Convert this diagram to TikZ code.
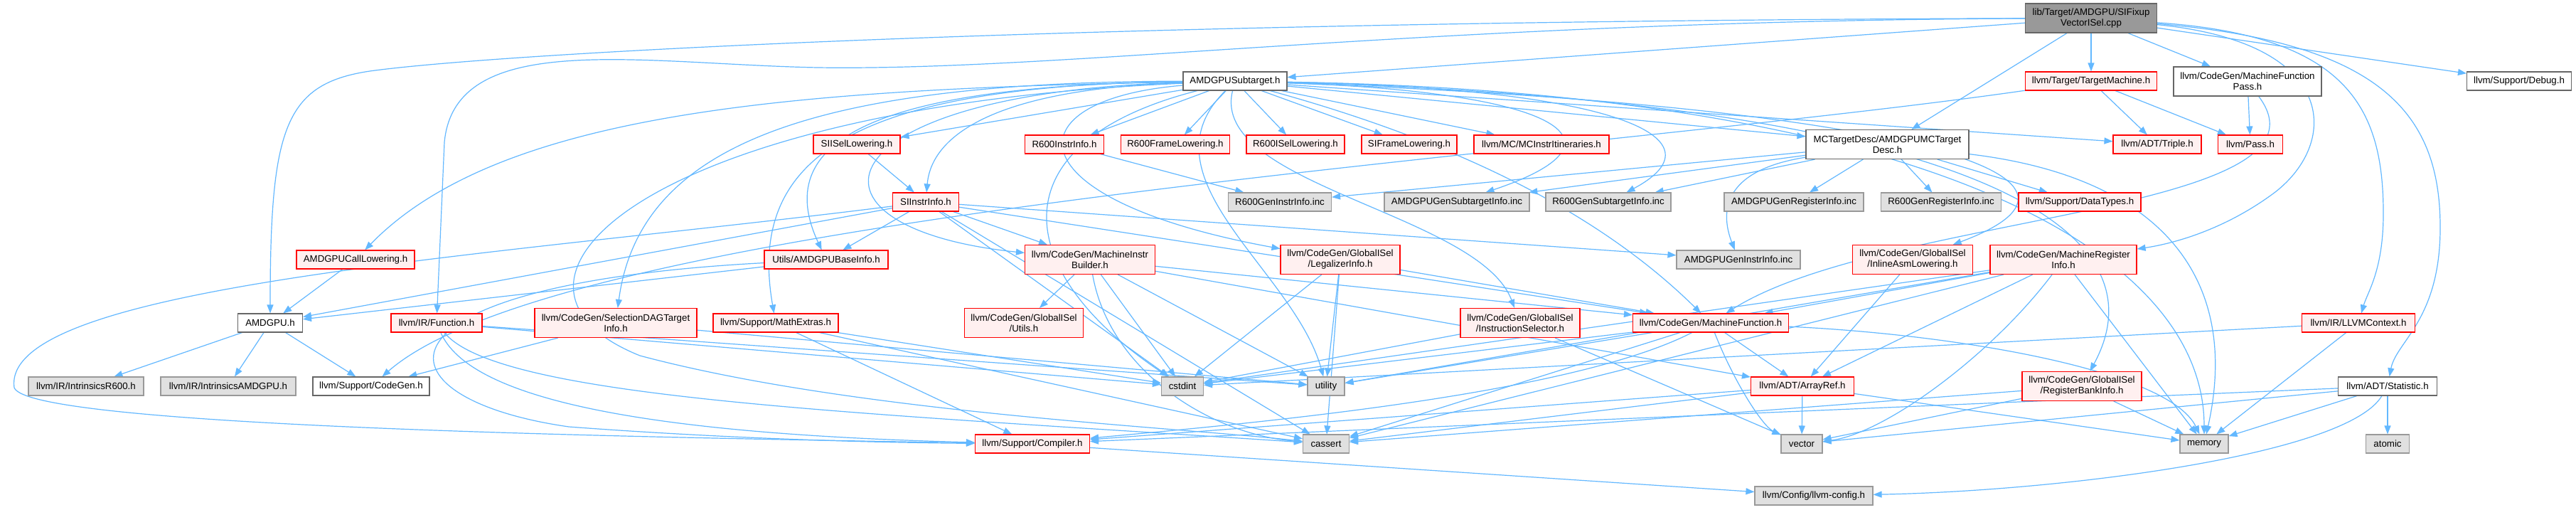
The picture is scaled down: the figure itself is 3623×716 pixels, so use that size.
\documentclass[tikz,border=0pt]{standalone}
\usepackage{fontspec}
\setmainfont{Liberation Sans}
\usetikzlibrary{arrows.meta,backgrounds}
\definecolor{edgec}{RGB}{99,184,255}
\definecolor{wborder}{RGB}{102,102,102}
\definecolor{redfill}{RGB}{255,240,240}
\definecolor{gfill}{RGB}{224,224,224}
\definecolor{gborder}{RGB}{153,153,153}
\definecolor{rootfill}{RGB}{153,153,153}
\begin{document}
\begin{tikzpicture}[x=1pt,y=-1pt,
  box/.style={line width=1.1pt, align=center, inner sep=0pt, text=black, font=\fontsize{13.3}{15}\selectfont},
  wbox/.style={box, draw=wborder, fill=white},
  rbox/.style={box, draw=red, fill=redfill},
  gbox/.style={box, draw=gborder, fill=gfill},
  rootbox/.style={box, draw=wborder, fill=rootfill},
  hone/.style={minimum height=26pt},
  htwo/.style={minimum height=41pt},
  conn/.style={draw=edgec, line width=1.2pt, -{Triangle[length=12pt,width=9pt]}}]
\useasboundingbox (0,0) rectangle (3623,716);
% row 1
\node[rootbox,htwo,minimum width=185pt] (root) at (2941,25.5) {lib/Target/AMDGPU/SIFixup\\VectorISel.cpp};
% row 2
\node[wbox,hone,minimum width=146pt] (sub) at (1737,114) {AMDGPUSubtarget.h};
\node[rbox,hone,minimum width=185pt] (tm) at (2941,114) {llvm/Target/TargetMachine.h};
\node[wbox,htwo,minimum width=208pt] (mfp) at (3161,114.5) {llvm/CodeGen/MachineFunction\\Pass.h};
\node[wbox,hone,minimum width=147pt] (dbg) at (3543,114) {llvm/Support/Debug.h};
% row 3
\node[rbox,hone,minimum width=122pt] (sisel) at (1205,203) {SIISelLowering.h};
\node[rbox,hone,minimum width=111pt] (r6ii) at (1497,203) {R600InstrInfo.h};
\node[rbox,hone,minimum width=153pt] (r6fl) at (1653,203) {R600FrameLowering.h};
\node[rbox,hone,minimum width=138pt] (r6isel) at (1822,203) {R600ISelLowering.h};
\node[rbox,hone,minimum width=134pt] (sifl) at (1982,203) {SIFrameLowering.h};
\node[rbox,hone,minimum width=190pt] (mcit) at (2168,203) {llvm/MC/MCInstrItineraries.h};
\node[wbox,htwo,minimum width=229pt] (mctd) at (2654.5,203) {MCTargetDesc/AMDGPUMCTarget\\Desc.h};
\node[rbox,hone,minimum width=124pt] (triple) at (3034,203) {llvm/ADT/Triple.h};
\node[rbox,hone,minimum width=91pt] (pass) at (3165,203) {llvm/Pass.h};
% row 4
\node[rbox,hone,minimum width=93pt] (siii) at (1302,284) {SIInstrInfo.h};
\node[gbox,hone,minimum width=145pt] (r6gii) at (1800,284) {R600GenInstrInfo.inc};
\node[gbox,hone,minimum width=204pt] (agsi) at (2049,284) {AMDGPUGenSubtargetInfo.inc};
\node[gbox,hone,minimum width=176pt] (r6gsi) at (2262,284) {R600GenSubtargetInfo.inc};
\node[gbox,hone,minimum width=196pt] (agri) at (2523,284) {AMDGPUGenRegisterInfo.inc};
\node[gbox,hone,minimum width=169pt] (r6gri) at (2730,284) {R600GenRegisterInfo.inc};
\node[rbox,hone,minimum width=172pt] (dtypes) at (2925,284) {llvm/Support/DataTypes.h};
% row 5
\node[rbox,hone,minimum width=166pt] (acl) at (500,365) {AMDGPUCallLowering.h};
\node[rbox,hone,minimum width=174pt] (ubi) at (1162,365) {Utils/AMDGPUBaseInfo.h};
\node[rbox,htwo,minimum width=183pt] (mib) at (1533,365) {llvm/CodeGen/MachineInstr\\Builder.h};
\node[rbox,htwo,minimum width=168pt] (legal) at (1885,365) {llvm/CodeGen/GlobalISel\\/LegalizerInfo.h};
\node[gbox,hone,minimum width=174pt] (agii) at (2445,365) {AMDGPUGenInstrInfo.inc};
\node[rbox,htwo,minimum width=169pt] (inline) at (2690,365) {llvm/CodeGen/GlobalISel\\/InlineAsmLowering.h};
\node[rbox,htwo,minimum width=206pt] (mri) at (2902,365) {llvm/CodeGen/MachineRegister\\Info.h};
% row 6
\node[wbox,hone,minimum width=91pt] (amdgpu) at (380,454) {AMDGPU.h};
\node[rbox,hone,minimum width=128pt] (func) at (614,454) {llvm/IR/Function.h};
\node[rbox,htwo,minimum width=228pt] (sdag) at (866,454) {llvm/CodeGen/SelectionDAGTarget\\Info.h};
\node[rbox,hone,minimum width=176pt] (mathx) at (1091,454) {llvm/Support/MathExtras.h};
\node[rbox,htwo,minimum width=167pt] (gutils) at (1440,454) {llvm/CodeGen/GlobalISel\\/Utils.h};
\node[rbox,htwo,minimum width=168pt] (isel) at (2138,454) {llvm/CodeGen/GlobalISel\\/InstructionSelector.h};
\node[rbox,hone,minimum width=219pt] (mf) at (2406,454) {llvm/CodeGen/MachineFunction.h};
\node[rbox,hone,minimum width=159pt] (ctx) at (3317,454) {llvm/IR/LLVMContext.h};
% row 7
\node[gbox,hone,minimum width=162pt] (ir600) at (121,543) {llvm/IR/IntrinsicsR600.h};
\node[gbox,hone,minimum width=190pt] (iamd) at (321,543) {llvm/IR/IntrinsicsAMDGPU.h};
\node[wbox,hone,minimum width=164pt] (cgen) at (522,543) {llvm/Support/CodeGen.h};
\node[gbox,hone,minimum width=59pt] (cstdint) at (1663,543) {cstdint};
\node[gbox,hone,minimum width=52pt] (utility) at (1865,543) {utility};
\node[rbox,hone,minimum width=145pt] (aref) at (2535,543) {llvm/ADT/ArrayRef.h};
\node[rbox,htwo,minimum width=168pt] (rbi) at (2928,543) {llvm/CodeGen/GlobalISel\\/RegisterBankInfo.h};
\node[wbox,hone,minimum width=139pt] (stat) at (3358,543) {llvm/ADT/Statistic.h};
% row 8
\node[rbox,hone,minimum width=161pt] (compiler) at (1452,624) {llvm/Support/Compiler.h};
\node[gbox,hone,minimum width=65pt] (cassert) at (1865,624) {cassert};
\node[gbox,hone,minimum width=58pt] (vector) at (2534,624) {vector};
\node[gbox,hone,minimum width=68pt] (memory) at (3100,624) {memory};
\node[gbox,hone,minimum width=61pt] (atomic) at (3358,624) {atomic};
% row 9
\node[gbox,hone,minimum width=166pt] (lconf) at (2551,697) {llvm/Config/llvm-config.h};

\begin{pgfonlayer}{background}
\fill[white] (0,0) rectangle (3623,716);
% root
\draw[conn] (root) -- (sub);
\draw[conn] (root) -- (mctd);
\draw[conn] (root) -- (tm);
\draw[conn] (root) -- (mfp);
\draw[conn] (root) -- (dbg);
\draw[conn] (root) .. controls (1500,30) and (700,75) .. (520,100) .. controls (400,118) and (380,180) .. (amdgpu);
\draw[conn] (root) .. controls (2000,30) and (1500,100) .. (1150,95) .. controls (900,90) and (640,40) .. (625,200) -- (func);
\draw[conn] (root) .. controls (3290,60) and (3290,200) .. (3200,270) .. controls (3120,330) and (3040,345) .. (mri);
\draw[conn] (root) .. controls (3300,50) and (3352,150) .. (3352,300) .. controls (3352,380) and (3330,410) .. (ctx);
\draw[conn] (root) .. controls (3350,60) and (3432,160) .. (3432,320) .. controls (3432,450) and (3370,480) .. (stat);
% target machine, pass
\draw[conn] (tm) -- (triple);
\draw[conn] (tm) -- (pass);
\draw[conn] (mfp) -- (pass);
\draw[conn] (tm) .. controls (2200,220) and (800,300) .. (cgen);
\draw[conn] (mfp) .. controls (3300,300) and (2650,300) .. (mf);
% subtarget
\draw[conn] (sub) -- (sisel);
\draw[conn] (sub) -- (r6ii);
\draw[conn] (sub) -- (r6fl);
\draw[conn] (sub) -- (r6isel);
\draw[conn] (sub) -- (sifl);
\draw[conn] (sub) -- (mcit);
\draw[conn] (sub) -- (mctd);
\draw[conn] (sub) -- (triple);
\draw[conn] (sub) .. controls (1400,125) and (1310,190) .. (siii);
\draw[conn] (sub) .. controls (1100,125) and (700,160) .. (acl);
\draw[conn] (sub) .. controls (1250,120) and (1080,190) .. (ubi);
\draw[conn] (sub) .. controls (1150,115) and (900,200) .. (sdag);
\draw[conn] (sub) .. controls (1200,120) and (1050,220) .. (mathx);
\draw[conn] (sub) .. controls (1150,130) and (1100,320) .. (mib);
\draw[conn] (sub) .. controls (1420,140) and (1420,280) .. (legal);
\draw[conn] (sub) .. controls (1700,260) and (2080,300) .. (isel);
\draw[conn] (sub) .. controls (2700,150) and (3000,250) .. (inline);
\draw[conn] (sub) .. controls (2700,140) and (3060,300) .. (rbi);
\draw[conn] (sub) .. controls (2050,200) and (2250,300) .. (mf);
\draw[conn] (sub) .. controls (2200,130) and (2300,200) .. (agsi);
\draw[conn] (sub) .. controls (2300,125) and (2420,200) .. (r6gsi);
\draw[conn] (sub) .. controls (1400,200) and (1420,380) .. (cstdint);
\draw[conn] (sub) .. controls (1600,250) and (1820,380) .. (utility);
\draw[conn] (sub) .. controls (900,150) and (650,400) .. (900,500) .. controls (1200,580) and (1650,600) .. (cassert);
\draw[conn] (sub) .. controls (2700,130) and (3100,350) .. (memory);
% MC target desc
\draw[conn] (mctd) -- (r6gii);
\draw[conn] (mctd) -- (agsi);
\draw[conn] (mctd) -- (r6gsi);
\draw[conn] (mctd) -- (agri);
\draw[conn] (mctd) -- (r6gri);
\draw[conn] (mctd) -- (dtypes);
\draw[conn] (mctd) .. controls (2420,240) and (2420,300) .. (agii);
\draw[conn] (mctd) .. controls (3050,250) and (3150,400) .. (memory);
% SI / R600
\draw[conn] (sisel) -- (siii);
\draw[conn] (r6ii) -- (r6gii);
\draw[conn] (siii) -- (ubi);
\draw[conn] (siii) -- (mib);
\draw[conn] (siii) -- (amdgpu);
\draw[conn] (siii) -- (agii);
\draw[conn] (siii) -- (mf);
\draw[conn] (siii) -- (cstdint);
\draw[conn] (siii) -- (cassert);
\draw[conn] (siii) .. controls (700,360) and (0,400) .. (20,545) .. controls (40,600) and (900,615) .. (compiler);
% utils, call lowering
\draw[conn] (ubi) -- (amdgpu);
\draw[conn] (acl) -- (amdgpu);
\draw[conn] (ubi) .. controls (500,400) and (520,560) .. (800,600) .. controls (1000,615) and (1200,622) .. (compiler);
% machine instr builder, legalizer
\draw[conn] (mib) -- (gutils);
\draw[conn] (mib) -- (cstdint);
\draw[conn] (mib) -- (utility);
\draw[conn] (mib) -- (mf);
\draw[conn] (mib) -- (aref);
\draw[conn] (mib) .. controls (1560,520) and (1700,610) .. (cassert);
\draw[conn] (legal) -- (cstdint);
\draw[conn] (legal) -- (utility);
\draw[conn] (legal) -- (cassert);
\draw[conn] (legal) -- (mf);
\draw[conn] (inline) -- (aref);
% machine register info
\draw[conn] (mri) -- (mf);
\draw[conn] (mri) -- (aref);
\draw[conn] (mri) -- (memory);
\draw[conn] (mri) -- (cstdint);
\draw[conn] (mri) -- (utility);
\draw[conn] (mri) -- (cassert);
\draw[conn] (mri) .. controls (2800,500) and (2650,610) .. (vector);
% machine function
\draw[conn] (mf) -- (aref);
\draw[conn] (mf) -- (cstdint);
\draw[conn] (mf) -- (utility);
\draw[conn] (mf) -- (cassert);
\draw[conn] (mf) .. controls (2200,560) and (1700,600) .. (compiler);
\draw[conn] (mf) .. controls (2440,540) and (2480,600) .. (vector);
\draw[conn] (mf) .. controls (2750,470) and (3050,520) .. (memory);
% function, sdag, mathextras
\draw[conn] (func) -- (cstdint);
\draw[conn] (func) -- (utility);
\draw[conn] (func) .. controls (660,560) and (900,610) .. (compiler);
\draw[conn] (func) .. controls (700,560) and (1200,580) .. (cassert);
\draw[conn] (sdag) -- (cgen);
\draw[conn] (sdag) -- (utility);
\draw[conn] (mathx) -- (compiler);
\draw[conn] (mathx) -- (cassert);
\draw[conn] (mathx) -- (cstdint);
% instruction selector, register bank
\draw[conn] (isel) -- (cstdint);
\draw[conn] (isel) -- (vector);
\draw[conn] (rbi) -- (memory);
\draw[conn] (rbi) -- (vector);
\draw[conn] (rbi) -- (cassert);
% arrayref
\draw[conn] (aref) -- (vector);
\draw[conn] (aref) -- (memory);
\draw[conn] (aref) -- (compiler);
\draw[conn] (aref) -- (cassert);
% context, statistic
\draw[conn] (ctx) -- (memory);
\draw[conn] (ctx) -- (cstdint);
\draw[conn] (stat) -- (atomic);
\draw[conn] (stat) -- (memory);
\draw[conn] (stat) -- (vector);
\draw[conn] (stat) -- (compiler);
\draw[conn] (stat) .. controls (3300,640) and (2900,690) .. (lconf);
\draw[conn] (compiler) -- (lconf);
% AMDGPU.h
\draw[conn] (amdgpu) -- (ir600);
\draw[conn] (amdgpu) -- (iamd);
\draw[conn] (amdgpu) -- (cgen);
\end{pgfonlayer}
\end{tikzpicture}
\end{document}
